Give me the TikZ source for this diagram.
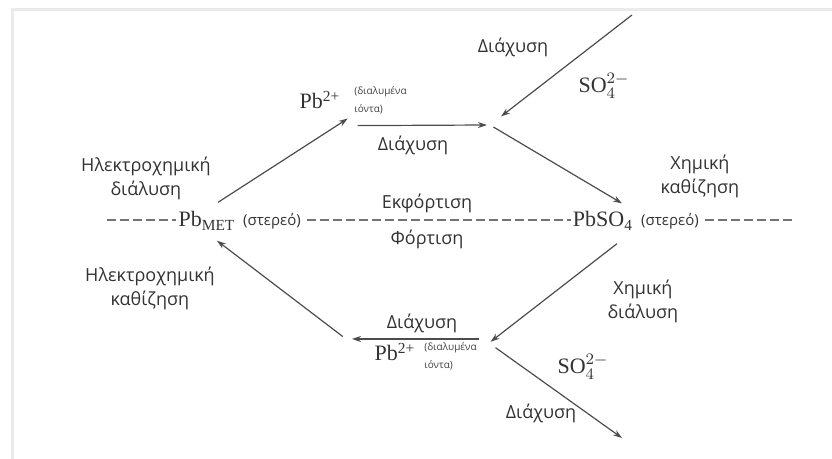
\documentclass[tikz,border=0pt]{standalone}
\usepackage{fontspec}
\setmainfont{Liberation Serif}
\setsansfont{Open Sans}
\setmathrm{Liberation Serif}
\usetikzlibrary{arrows.meta}

\newcommand{\sulfion}{$\mathrm{SO}_4^{2-}$}

\tikzset{
    flow/.style={draw=black!70, line width=0.6pt, -{Stealth[length=4.5pt,width=3pt]}},
    phase/.style={draw=black!55, line width=0.6pt, dash pattern=on 4.5pt off 2pt},
    lbl/.style={font=\sffamily\fontsize{9}{12}\selectfont, text=black!80, align=center, inner sep=0pt},
    chem/.style={font=\fontsize{11}{13}\selectfont, text=black!80, inner sep=1pt, anchor=base},
    state/.style={font=\sffamily\fontsize{7.5}{9}\selectfont, text=black!80, inner ysep=1pt, inner xsep=3pt, anchor=base},
    ion/.style={font=\sffamily\fontsize{5}{9}\selectfont, text=black!75, align=left, inner sep=0pt, anchor=west},
}

\begin{document}
\begin{tikzpicture}[x=0.5pt, y=-0.5pt]
    \useasboundingbox (0,0) rectangle (832,459);
    \draw[black!8, line width=1.5pt] (12,459) -- (12,10) -- (832,10);

    \node[chem] (pbmet) at (207,227) {Pb\textsubscript{MET}};
    \node[state] (pbmetst) at (272,226) {(στερεό)};
    \node[chem] (pbso) at (603,227) {PbSO\textsubscript{4}};
    \node[state] (pbsost) at (670,226) {(στερεό)};
    \node[chem] (pbtop) at (320,109) {Pb\textsuperscript{2+}};
    \node[ion] (iontop) at (354,100) {(διαλυμένα\\ιόντα)};
    \node[chem] (pbbot) at (395,361) {Pb\textsuperscript{2+}};
    \node[ion] (ionbot) at (424,356) {(διαλυμένα\\ιόντα)};
    \node[chem] (sotop) at (604,93) {\sulfion};
    \node[chem] (sobot) at (583,374) {\sulfion};

    \node[lbl] (edisl) at (146,178) {Ηλεκτροχημική\\διάλυση};
    \node[lbl] (edepl) at (150,288) {Ηλεκτροχημική\\καθίζηση};
    \node[lbl] (cdepr) at (700,176) {Χημική\\καθίζηση};
    \node[lbl] (cdisr) at (643,301) {Χημική\\διάλυση};
    \node[lbl] (disch) at (427,203) {Εκφόρτιση};
    \node[lbl] (charg) at (427,239) {Φόρτιση};
    \node[lbl] (difa) at (413,145) {Διάχυση};
    \node[lbl] (difb) at (513,47) {Διάχυση};
    \node[lbl] (difc) at (422,323) {Διάχυση};
    \node[lbl] (difd) at (541,413) {Διάχυση};

    \coordinate (jtop) at (490,125);
    \coordinate (jbot) at (489,343);
    \coordinate (jleft) at (346,339);
    \coordinate (soin) at (632,15);
    \coordinate (soout) at (622,438);
    \coordinate (dashl) at (107,220);
    \coordinate (dashr) at (792,220);

    \draw[phase] (dashl) -- (dashl -| pbmet.west);
    \draw[phase] (pbmetst.east |- dashl) -- (pbso.west |- dashl);
    \draw[phase] (pbsost.east |- dashr) -- (dashr);

    \draw[flow] ([shift={(11,-7)}]pbmet.north) -- ([shift={(5,7)}]pbtop.south east);
    \draw[flow] ([shift={(15,14)}]pbtop.south east) -- ([shift={(-3,0)}]jtop);
    \draw[flow, shorten >=7pt] (soin) -- (jtop);
    \draw[flow, shorten <=2pt] (jtop) -- ([shift={(19,-6)}]pbso.north);
    \draw[flow, shorten >=1pt] ([shift={(14,11)}]pbso.south) -- (jbot);
    \draw[flow, shorten <=5pt, shorten >=3pt] (jbot |- jleft) -- (jleft);
    \draw[flow, shorten <=2pt] (jleft) -- ([shift={(10,8)}]pbmet.south);
    \draw[flow, shorten <=4pt] (jbot) -- (soout);
\end{tikzpicture}
\end{document}
